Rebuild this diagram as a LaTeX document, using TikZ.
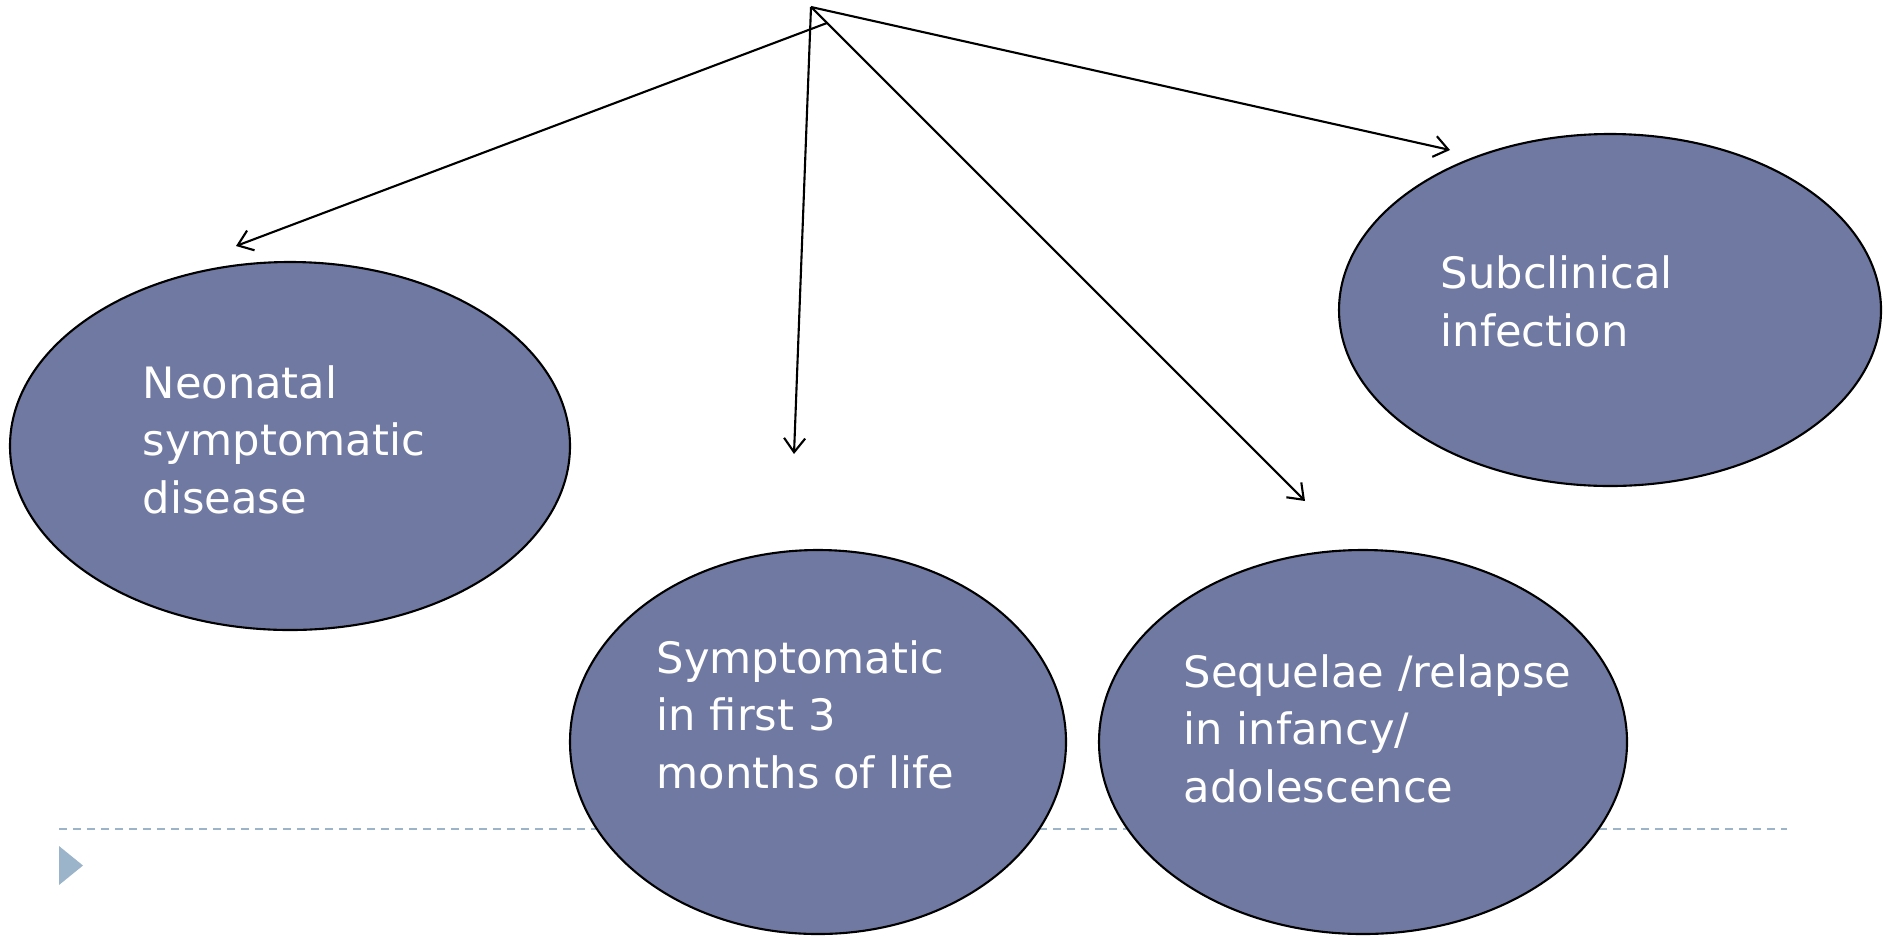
\documentclass[tikz,border=0pt]{standalone}
\usepackage{fontspec}
\setmainfont{DejaVu Sans}
\usepackage{tikz}
\usetikzlibrary{arrows.meta}
\usetikzlibrary{shapes.geometric, positioning}
\usepackage{xcolor}
\definecolor{outcomefill}{RGB}{112,121,161}
\definecolor{slidegrey}{RGB}{156,180,202}
\tikzstyle{outcome} = [draw, ellipse, fill=outcomefill, line width=0.6pt, inner sep=0]
\tikzstyle{outcometext} = [text=white, align=left, anchor=base west, inner sep=0, font=\fontsize{12.3}{16.3}\selectfont]
\tikzstyle{spread} = [-{Straight Barb[length=4pt,width=6pt]}, line width=0.6pt]

\begin{document}
\begin{tikzpicture}
            \useasboundingbox (0,0) rectangle (18.83,-9.35);

            % Slide footer
            \draw[slidegrey, line width=0.55pt, dash pattern=on 0.08cm off 0.06cm] (0.59,-8.29) -- (17.87,-8.29);
            \fill[slidegrey] (0.59,-8.46) -- (0.83,-8.655) -- (0.59,-8.85) -- cycle;

            % Nodes
            \node[outcome, minimum width=5.60cm, minimum height=3.68cm] (neonatal) at (2.90,-4.46) {};
            \node[outcome, minimum width=4.96cm, minimum height=3.84cm] (early) at (8.18,-7.42) {};
            \node[outcome, minimum width=5.28cm, minimum height=3.84cm] (sequelae) at (13.63,-7.42) {};
            \node[outcome, minimum width=5.42cm, minimum height=3.52cm] (subclinical) at (16.10,-3.10) {};

            % text, placed by the baseline of its last line
            \node[outcometext] (neonataltext) at (1.42,-5.13) {Neonatal\\symptomatic\\disease};
            \node[outcometext] (earlytext) at (6.56,-7.88) {Symptomatic\\in first 3\\months of life};
            \node[outcometext] (sequelaetext) at (11.83,-8.02) {Sequelae /relapse\\in infancy/\\adolescence};
            \node[outcometext] (subclinicaltext) at (14.40,-3.46) {Subclinical\\infection};

            % Connecting lines
            \coordinate (apex) at (8.11,-0.07);
            \coordinate (fork) at (8.27,-0.23);
            \coordinate (neonataltip) at (2.36,-2.46);
            \coordinate (earlytip) at (7.94,-4.54);
            \coordinate (sequelaetip) at (13.05,-5.01);
            \coordinate (subclinicaltip) at (14.50,-1.50);
            \draw[spread] (fork) -- (neonataltip);
            \draw[spread] (apex) -- (earlytip);
            \draw[spread] (apex) -- (sequelaetip);
            \draw[spread] (apex) -- (subclinicaltip);
        \end{tikzpicture}
\end{document}
